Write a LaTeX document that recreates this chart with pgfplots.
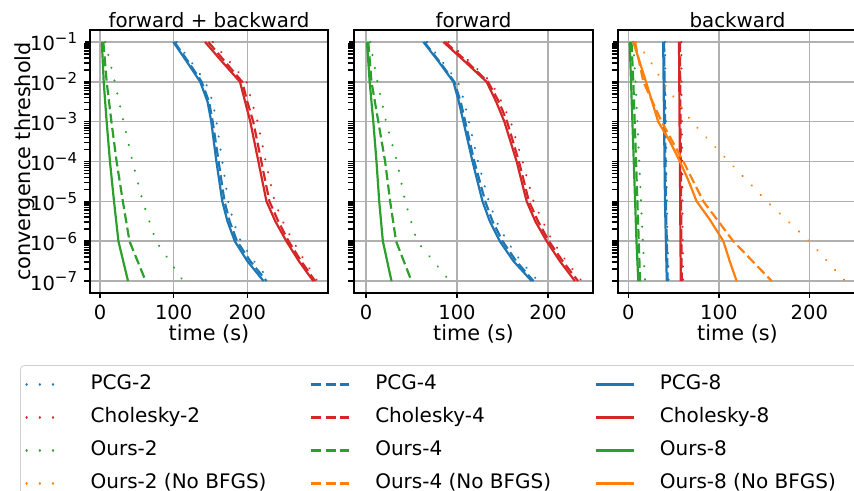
\documentclass[border=0pt]{standalone}
\usepackage{fontspec}
\setmainfont{DejaVu Sans}
\usepackage{pgfplots}
\pgfplotsset{compat=1.18}
\definecolor{tabblue}{HTML}{1F77B4}
\definecolor{taborange}{HTML}{FF7F0E}
\definecolor{tabgreen}{HTML}{2CA02C}
\definecolor{tabred}{HTML}{D62728}
\definecolor{gridgray}{HTML}{B0B0B0}
\newcommand\sups[1]{\textsuperscript{\fontsize{7.5}{8}\selectfont #1}}
\tikzset{
  lsC/.style={solid},
  lsB/.style={dash pattern=on 5pt off 2.2pt},
  lsA/.style={dash pattern=on 0.1pt off 6.5pt, line cap=round},
}
\pgfplotsset{
  every axis/.append style={
    scale only axis, height=131.5pt,
    ymin=5.0119e-8, ymax=0.19953,
    ytick={1e-7,1e-6,1e-5,1e-4,1e-3,1e-2,1e-1},
    xtick={0,100,200}, xticklabels={0,100,200},
    grid=major, major grid style={gridgray, line width=0.75pt},
    axis line style={black, line width=1pt},
    tick style={black, line width=0.8pt}, major tick length=2.5pt, tick align=outside,
    xtick pos=left, ytick pos=left,
    xlabel={time (s)},
    label style={font=\fontsize{10.4}{12}\selectfont},
    xlabel style={inner sep=0pt, yshift=1pt},
    title style={font=\fontsize{9.9}{12}\selectfont, inner sep=1pt, yshift=-6pt},
  },
  every axis plot/.append style={line width=1.1pt, line join=round},
}
\begin{document}
\fontsize{9.75}{11.7}\selectfont
\begin{tikzpicture}
% ---------------- forward + backward ----------------
\begin{semilogyaxis}[at={(45pt,-15pt)}, anchor=north west, width=119pt, xmin=-13.6, xmax=309.5,
  title={forward + backward}, ylabel={convergence threshold},
  ylabel style={inner sep=0pt}, ylabel shift=-6pt,
  yticklabels={10\sups{−7},10\sups{−6},10\sups{−5},10\sups{−4},10\sups{−3},10\sups{−2},10\sups{−1}},
  legend columns=3, legend cell align=left,
  legend image code/.code={\draw[#1] (0pt,0pt) -- (19pt,0pt);},
  legend style={at={(-0.294,-0.274)}, anchor=north west, draw=black!18, rounded corners=2pt,
    fill=white, inner xsep=2.5pt, inner ysep=4.5pt, row sep=6.5pt,
    font=\fontsize{10}{12}\selectfont,
    nodes={inner sep=0pt, text height=7.5pt, text depth=2.5pt},
    /tikz/every odd column/.append style={column sep=12.5pt},
    /tikz/every even column/.append style={column sep=21.75pt}},
]
\addplot[forget plot, tabgreen, lsC] coordinates {(2.5,1e-1) (5,1e-2) (9,1e-3) (13.5,1e-4) (19,1e-5) (25,1e-6) (38,1e-7)};
\addplot[forget plot, tabgreen, lsB] coordinates {(4.5,1e-1) (9,1e-2) (15.5,1e-3) (22.5,1e-4) (31,1e-5) (40,1e-6) (62,1e-7)};
\addplot[forget plot, tabgreen, lsA] coordinates {(7,1e-1) (20,1e-2) (32,1e-3) (44,1e-4) (58,1e-5) (76,1e-6) (113,1e-7)};
\addplot[forget plot, tabblue, lsC] coordinates {(99.5,1e-1) (118,3.16e-2) (136,1e-2) (146,3.16e-3) (151,1e-3) (158,1e-4) (166,1e-5) (173,3.16e-6) (183,1e-6) (200,3.16e-7) (222,1e-7)};
\addplot[forget plot, tabblue, lsB] coordinates {(101,1e-1) (120,3.16e-2) (138,1e-2) (148,3.16e-3) (153,1e-3) (161,1e-4) (169,1e-5) (176,3.16e-6) (186,1e-6) (204,3.16e-7) (226,1e-7)};
\addplot[forget plot, tabblue, lsA] coordinates {(104,1e-1) (124,3.16e-2) (143,1e-2) (153,3.16e-3) (158,1e-3) (166,1e-4) (174,1e-5) (181,3.16e-6) (191,1e-6) (209,3.16e-7) (231,1e-7)};
\addplot[forget plot, tabred, lsC] coordinates {(142.5,1e-1) (166,3.16e-2) (190,1e-2) (197,3.16e-3) (204,1e-3) (215,1e-4) (226,1e-5) (238,3.16e-6) (253,1e-6) (270,3.16e-7) (289.5,1e-7)};
\addplot[forget plot, tabred, lsB] coordinates {(147,1e-1) (170,3.16e-2) (193,1e-2) (200,3.16e-3) (208,1e-3) (219,1e-4) (230,1e-5) (242,3.16e-6) (256,1e-6) (273,3.16e-7) (292,1e-7)};
\addplot[forget plot, tabred, lsA] coordinates {(153,1e-1) (176,3.16e-2) (199,1e-2) (206,3.16e-3) (214,1e-3) (225,1e-4) (237,1e-5) (248,3.16e-6) (262,1e-6) (278,3.16e-7) (295,1e-7)};
\addlegendimage{tabblue, lsA, line width=1.1pt}\addlegendentry{PCG-2}
\addlegendimage{tabblue, lsB, line width=1.1pt}\addlegendentry{PCG-4}
\addlegendimage{tabblue, lsC, line width=1.1pt}\addlegendentry{PCG-8}
\addlegendimage{tabred, lsA, line width=1.1pt}\addlegendentry{Cholesky-2}
\addlegendimage{tabred, lsB, line width=1.1pt}\addlegendentry{Cholesky-4}
\addlegendimage{tabred, lsC, line width=1.1pt}\addlegendentry{Cholesky-8}
\addlegendimage{tabgreen, lsA, line width=1.1pt}\addlegendentry{Ours-2}
\addlegendimage{tabgreen, lsB, line width=1.1pt}\addlegendentry{Ours-4}
\addlegendimage{tabgreen, lsC, line width=1.1pt}\addlegendentry{Ours-8}
\addlegendimage{taborange, lsA, line width=1.1pt}\addlegendentry{Ours-2 (No BFGS)}
\addlegendimage{taborange, lsB, line width=1.1pt}\addlegendentry{Ours-4 (No BFGS)}
\addlegendimage{taborange, lsC, line width=1.1pt}\addlegendentry{Ours-8 (No BFGS)\hphantom{MM}}
\end{semilogyaxis}
% ---------------- forward ----------------
\begin{semilogyaxis}[at={(177pt,-15pt)}, anchor=north west, width=119.5pt, xmin=-13.2, xmax=249.4,
  title={forward}, yticklabels={}]
\addplot[tabgreen, lsC] coordinates {(1,1e-1) (4,1e-2) (8,1e-3) (11.5,1e-4) (14.5,1e-5) (18.5,1e-6) (28,1e-7)};
\addplot[tabgreen, lsB] coordinates {(2.5,1e-1) (6,1e-2) (13.5,1e-3) (21,1e-4) (26.5,1e-5) (33,1e-6) (50,1e-7)};
\addplot[tabgreen, lsA] coordinates {(4.5,1e-1) (12.5,1e-2) (22,1e-3) (34,1e-4) (43,1e-5) (56,1e-6) (92,1e-7)};
\addplot[tabblue, lsC] coordinates {(63,1e-1) (80,3.16e-2) (96,1e-2) (102,3.16e-3) (107,1e-3) (117,1e-4) (128,1e-5) (136,3.16e-6) (147,1e-6) (162,3.16e-7) (182,1e-7)};
\addplot[tabblue, lsB] coordinates {(64,1e-1) (81,3.16e-2) (97,1e-2) (104,3.16e-3) (109,1e-3) (119,1e-4) (131,1e-5) (139,3.16e-6) (150,1e-6) (165,3.16e-7) (184,1e-7)};
\addplot[tabblue, lsA] coordinates {(67,1e-1) (84,3.16e-2) (101,1e-2) (108,3.16e-3) (113,1e-3) (123,1e-4) (135,1e-5) (143,3.16e-6) (155,1e-6) (170,3.16e-7) (189,1e-7)};
\addplot[tabred, lsC] coordinates {(85,1e-1) (109,3.16e-2) (132.5,1e-2) (143,3.16e-3) (152,1e-3) (165.5,1e-4) (176.5,1e-5) (186,3.16e-6) (198.5,1e-6) (213,3.16e-7) (229.5,1e-7)};
\addplot[tabred, lsB] coordinates {(87,1e-1) (111,3.16e-2) (134,1e-2) (146,3.16e-3) (155,1e-3) (168,1e-4) (179,1e-5) (189,3.16e-6) (201,1e-6) (216,3.16e-7) (233,1e-7)};
\addplot[tabred, lsA] coordinates {(90.5,1e-1) (114,3.16e-2) (137,1e-2) (149,3.16e-3) (159,1e-3) (172,1e-4) (184,1e-5) (194,3.16e-6) (205,1e-6) (220,3.16e-7) (237,1e-7)};
\end{semilogyaxis}
% ---------------- backward ----------------
\begin{semilogyaxis}[at={(309pt,-15pt)}, anchor=north west, width=119.5pt, xmin=-11.4, xmax=252.7,
  title={backward}, yticklabels={}]
\addplot[tabgreen, lsC] coordinates {(1.5,1e-1) (3,1e-2) (4.5,1e-3) (6,1e-4) (7.5,1e-5) (9,1e-6) (11,1e-7)};
\addplot[tabgreen, lsB] coordinates {(3.5,1e-1) (5.5,1e-2) (7,1e-3) (8.5,1e-4) (10,1e-5) (11.5,1e-6) (13,1e-7)};
\addplot[tabgreen, lsA] coordinates {(5.5,1e-1) (8,1e-2) (10,1e-3) (12,1e-4) (14,1e-5) (16,1e-6) (18.5,1e-7)};
\addplot[tabblue, lsC] coordinates {(38.5,1e-1) (39,1e-2) (39.5,1e-3) (40,1e-4) (40.5,1e-5) (41.5,1e-6) (42.5,1e-7)};
\addplot[tabblue, lsB] coordinates {(39.5,1e-1) (40,1e-2) (40.5,1e-3) (41,1e-4) (41.5,1e-5) (42.5,1e-6) (43.5,1e-7)};
\addplot[tabblue, lsA] coordinates {(40.5,1e-1) (41,1e-2) (41.5,1e-3) (42,1e-4) (42.5,1e-5) (43.5,1e-6) (44.5,1e-7)};
\addplot[tabred, lsC] coordinates {(56,1e-1) (56.3,1e-2) (56.6,1e-3) (57,1e-4) (57.3,1e-5) (57.6,1e-6) (58,1e-7)};
\addplot[tabred, lsB] coordinates {(57,1e-1) (57.3,1e-2) (57.6,1e-3) (58,1e-4) (58.3,1e-5) (58.6,1e-6) (59,1e-7)};
\addplot[tabred, lsA] coordinates {(58.5,1e-1) (58.8,1e-2) (59.1,1e-3) (59.5,1e-4) (59.8,1e-5) (60.1,1e-6) (60.5,1e-7)};
\addplot[taborange, lsC] coordinates {(5.5,1e-1) (19.5,1e-2) (33,1e-3) (46,3.16e-4) (57,1e-4) (66,3.5e-5) (75.5,1e-5) (90,3.5e-6) (105,1e-6) (112,3.16e-7) (119.7,1e-7)};
\addplot[taborange, lsB] coordinates {(7.4,1e-1) (16.6,1e-2) (36.8,1e-3) (60.8,1e-4) (82.9,1e-5) (116,1e-6) (158.4,1e-7)};
\addplot[taborange, lsA] coordinates {(8.5,1e-1) (22,4e-2) (38,1e-2) (70,1e-3) (111,1e-4) (153,1e-5) (200,1e-6) (239.5,1e-7)};
\end{semilogyaxis}
\pgfresetboundingbox
\path[use as bounding box] (0,0) rectangle (427pt,-245.5pt);
\end{tikzpicture}
\end{document}
